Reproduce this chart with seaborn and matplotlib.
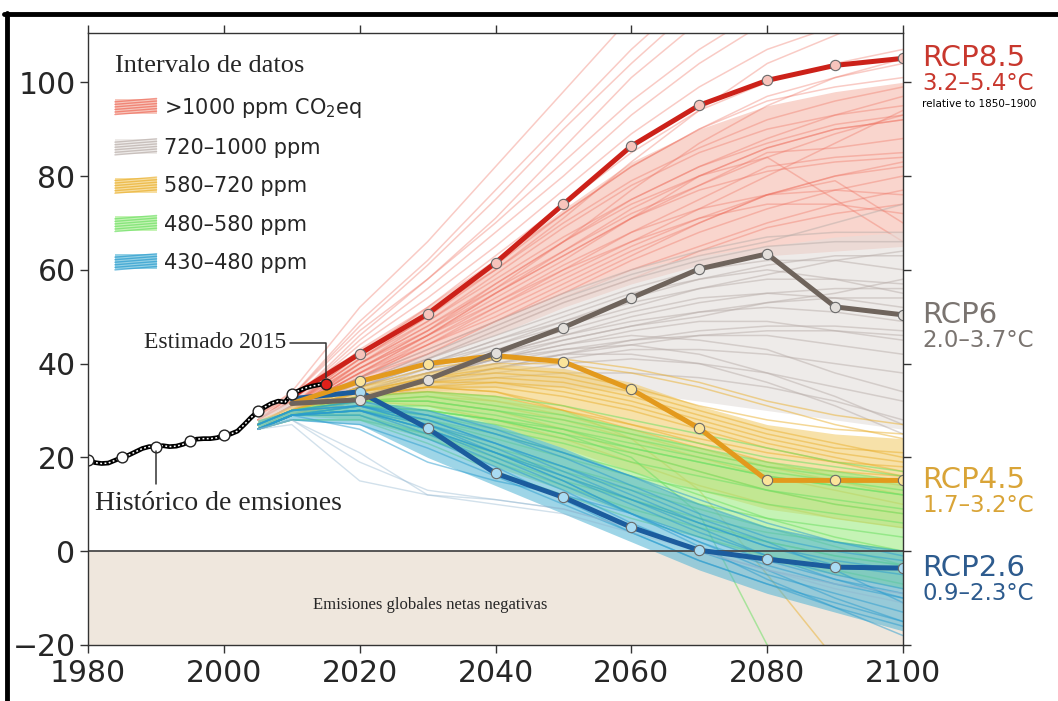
import numpy as np
import pandas as pd
import matplotlib
matplotlib.use("Agg")
import matplotlib.pyplot as plt
from matplotlib.lines import Line2D
from matplotlib.patches import Rectangle
from matplotlib.legend_handler import HandlerBase
import seaborn as sns

# ---------------------------------------------------------------- data
years = [2005, 2010, 2020, 2030, 2040, 2050, 2060, 2070, 2080, 2090, 2100]

# individual scenario runs per concentration class (GtCO2/yr)
runs_1000 = [
    [29, 34, 52, 66, 82, 98, 114, 128, 140, 150, 158],
    [28, 33, 49, 62, 77, 92, 107, 120, 132, 140, 146],
    [29, 33, 47, 58, 71, 86, 101, 113, 124, 130, 134],
    [28, 32, 45, 56, 68, 80, 93, 104, 113, 120, 124],
    [28, 32, 44, 54, 65, 77, 89, 99, 107, 112, 115],
    [27, 31, 43, 52, 62, 72, 82, 90, 97, 101, 104],
    [27, 31, 42, 51, 60, 70, 79, 86, 92, 96, 99],
    [27, 31, 41, 49, 58, 67, 75, 82, 88, 93, 97],
    [26, 30, 40, 48, 56, 64, 72, 78, 84, 89, 93],
    [27, 31, 40, 47, 55, 63, 71, 78, 85, 86, 88],
    [26, 30, 39, 46, 53, 60, 68, 75, 82, 84, 85],
    [26, 30, 38, 45, 52, 59, 66, 73, 80, 87, 94],
    [26, 30, 38, 44, 50, 57, 64, 70, 76, 80, 83],
    [27, 31, 39, 46, 54, 62, 71, 80, 84, 75, 66],
    [26, 30, 37, 43, 49, 55, 62, 68, 73, 77, 80],
    [26, 30, 37, 42, 48, 54, 60, 65, 70, 74, 77],
    [26, 29, 36, 41, 47, 53, 58, 64, 69, 72, 74],
    [26, 30, 39, 47, 56, 66, 77, 87, 95, 101, 105],
    [27, 31, 41, 50, 60, 71, 83, 94, 104, 110, 116],
    [26, 30, 38, 46, 55, 64, 73, 80, 86, 90, 92],
    [26, 29, 36, 42, 49, 56, 63, 70, 76, 80, 82],
    [26, 30, 37, 44, 51, 58, 65, 71, 76, 79, 70],
    [27, 31, 42, 52, 63, 74, 85, 94, 100, 104, 107],
    [27, 31, 41, 50, 61, 72, 82, 90, 96, 99, 101],
    [26, 30, 40, 49, 59, 69, 78, 85, 90, 93, 95],
    [26, 30, 39, 47, 57, 66, 75, 82, 87, 91, 93],
    [26, 30, 38, 46, 55, 63, 71, 77, 81, 83, 84],
    [26, 30, 37, 45, 53, 61, 68, 73, 76, 77, 76],
    [26, 29, 37, 44, 52, 60, 66, 71, 74, 74, 72],
    [27, 31, 40, 48, 57, 66, 74, 80, 86, 90, 92],
    [28, 33, 48, 61, 75, 90, 104, 117, 128, 136, 141],
    [28, 32, 46, 58, 70, 83, 96, 107, 116, 122, 126],
]
runs_720 = [
    [27, 31, 37, 43, 49, 55, 60, 64, 67, 68, 68],
    [27, 30, 36, 41, 46, 51, 56, 60, 62, 62, 60],
    [27, 30, 35, 40, 45, 49, 53, 56, 58, 58, 57],
    [27, 30, 35, 39, 43, 47, 51, 54, 55, 54, 52],
    [26, 30, 34, 38, 42, 46, 49, 51, 52, 51, 49],
    [26, 29, 34, 37, 41, 44, 47, 49, 49, 47, 45],
    [26, 29, 33, 37, 40, 43, 45, 46, 46, 44, 42],
    [26, 29, 33, 36, 39, 41, 43, 43, 42, 40, 38],
    [26, 29, 33, 36, 38, 40, 41, 40, 38, 35, 32],
    [26, 29, 32, 35, 37, 38, 38, 37, 35, 32, 28],
    [27, 30, 36, 42, 48, 54, 59, 63, 66, 70, 74],
    [27, 30, 35, 40, 44, 48, 52, 56, 59, 62, 64],
    [26, 29, 34, 38, 42, 45, 48, 50, 53, 55, 58],
    [26, 29, 33, 37, 41, 44, 46, 45, 43, 38, 34],
    [26, 29, 33, 36, 39, 42, 44, 46, 47, 47, 46],
    [26, 29, 34, 38, 41, 43, 44, 42, 38, 33, 27],
    [27, 30, 35, 40, 45, 50, 55, 58, 60, 58, 55],
    [26, 29, 33, 37, 40, 42, 42, 40, 36, 31, 25],
    [27, 30, 35, 41, 47, 53, 58, 62, 65, 66, 66],
    [26, 30, 34, 39, 44, 49, 54, 58, 61, 63, 63],
    [26, 29, 34, 38, 42, 46, 50, 53, 55, 56, 56],
    [26, 29, 33, 37, 41, 45, 48, 51, 53, 54, 54],
    [26, 29, 33, 36, 39, 42, 45, 47, 48, 48, 47],
]
runs_580 = [
    [27, 30, 35, 38, 40, 40, 38, 35, 31, 27, 24],
    [27, 30, 34, 37, 38, 37, 34, 30, 26, 23, 20],
    [26, 29, 34, 36, 36, 34, 31, 27, 23, 20, 17],
    [26, 29, 33, 35, 34, 31, 27, 23, 19, 16, 14],
    [26, 29, 33, 34, 33, 30, 26, 22, 18, 15, 12],
    [26, 29, 32, 33, 31, 28, 24, 20, 16, 13, 10],
    [26, 29, 32, 32, 30, 26, 21, 17, 13, 10, 8],
    [26, 29, 33, 35, 35, 33, 30, 26, 22, 19, 16],
    [26, 29, 32, 31, 28, 24, 19, 14, 10, 7, 5],
    [26, 29, 33, 35, 34, 30, 24, 13, -5, -23, -40],
    [27, 30, 34, 37, 39, 38, 35, 31, 28, 26, 25],
    [26, 29, 33, 34, 32, 29, 25, 21, 18, 17, 16],
    [26, 29, 32, 33, 32, 30, 27, 24, 21, 19, 18],
    [27, 30, 34, 36, 37, 36, 33, 29, 25, 22, 21],
    [27, 30, 35, 39, 41, 41, 39, 36, 32, 29, 27],
    [26, 29, 33, 35, 36, 35, 32, 28, 24, 21, 19],
]
runs_480 = [
    [27, 30, 33, 34, 33, 31, 28, 25, 22, 19, 17],
    [27, 30, 32, 32, 30, 28, 25, 22, 19, 17, 15],
    [26, 29, 31, 30, 28, 25, 22, 19, 16, 14, 12],
    [26, 29, 31, 29, 26, 23, 19, 16, 13, 11, 9],
    [26, 29, 30, 28, 24, 20, 16, 13, 10, 8, 6],
    [26, 29, 30, 27, 22, 18, 14, 10, 7, 5, 3],
    [26, 29, 29, 25, 20, 15, 11, 7, 4, 2, 0],
    [26, 29, 29, 24, 19, 14, 9, 5, 2, -1, -3],
    [26, 28, 28, 23, 17, 12, 7, 3, -1, -4, -7],
    [27, 30, 32, 33, 31, 29, 26, 23, 20, 18, 16],
    [26, 29, 31, 30, 28, 25, 20, 8, -20, -45, -60],
    [26, 29, 31, 30, 28, 26, 23, 20, 17, 15, 13],
    [26, 29, 30, 26, 21, 16, 11, 6, 2, -1, -3],
    [26, 29, 31, 31, 29, 26, 22, 19, 16, 14, 12],
    [26, 28, 28, 25, 21, 17, 13, 9, 5, 1, -3],
    [27, 30, 32, 32, 30, 27, 24, 21, 18, 16, 15],
    [26, 29, 30, 29, 27, 24, 21, 17, 13, 10, 8],
    [26, 29, 30, 28, 25, 21, 17, 12, 7, 3, 0],
]
runs_430 = [
    [27, 30, 32, 29, 25, 20, 14, 8, 3, 0, -2],
    [27, 30, 31, 28, 23, 18, 12, 6, 1, -3, -5],
    [26, 29, 31, 27, 22, 16, 10, 4, -1, -5, -8],
    [26, 29, 30, 26, 20, 14, 8, 2, -3, -7, -10],
    [26, 29, 30, 25, 19, 13, 6, 0, -5, -9, -13],
    [26, 29, 29, 24, 18, 11, 4, -2, -7, -12, -16],
    [26, 28, 27, 22, 16, 10, 4, -2, -7, -11, -15],
    [26, 27, 15, 12, 11, 9, 5, 0, -4, -8, -11],
    [26, 28, 19, 13, 11, 9, 5, 0, -4, -7, -9],
    [27, 30, 32, 30, 26, 21, 16, 10, 5, 2, 0],
    [26, 29, 31, 27, 21, 15, 8, 1, -6, -12, -18],
    [26, 29, 30, 26, 21, 16, 11, 6, 1, -2, -4],
    [26, 29, 26, 19, 15, 12, 8, 3, -2, -6, -9],
    [27, 30, 31, 28, 23, 17, 11, 5, -1, -6, -10],
    [26, 28, 21, 12, 10, 8, 4, 0, -4, -7, -9],
    [26, 29, 30, 26, 21, 15, 8, 2, -4, -10, -15],
    [26, 29, 30, 27, 23, 18, 13, 7, 2, -4, -11],
    [27, 30, 31, 29, 25, 21, 16, 11, 6, 2, -1],
]

# dense core of each class
core_lo_1000 = [27, 30, 35, 41, 46, 52, 57, 61, 63, 64, 65]
core_hi_1000 = [30, 34, 43, 52, 62, 73, 83, 90, 95, 98, 100]
core_lo_720 = [27, 29, 32, 34, 35, 35, 34, 32, 30, 28, 26]
core_hi_720 = [29, 32, 36, 42, 49, 55, 60, 63, 65, 67, 68]
core_lo_580 = [26, 29, 32, 31, 27, 22, 17, 13, 9, 7, 5]
core_hi_580 = [28, 31, 35, 38, 40, 39, 36, 31, 27, 25, 24]
core_lo_480 = [26, 29, 28, 24, 18, 13, 8, 3, -2, -5, -8]
core_hi_480 = [28, 30, 33, 34, 33, 30, 26, 22, 19, 17, 15]
core_lo_430 = [26, 28, 27, 20, 14, 8, 2, -4, -9, -13, -17]
core_hi_430 = [28, 30, 32, 30, 27, 22, 16, 10, 5, 2, 0]

class_labels = [">1000 ppm CO$_2$eq", "720–1000 ppm", "580–720 ppm",
                "480–580 ppm", "430–480 ppm"]

# representative pathways
rcp_years = [2010, 2020, 2030, 2040, 2050, 2060, 2070, 2080, 2090, 2100]
rcp85 = [33.0, 42.1, 50.6, 61.5, 74.0, 86.4, 95.1, 100.4, 103.6, 105.1]
rcp6 = [31.5, 32.3, 36.6, 42.3, 47.7, 54.0, 60.2, 63.4, 52.1, 50.4]
rcp45 = [31.5, 36.2, 40.0, 41.7, 40.4, 34.5, 26.2, 15.1, 15.1, 15.1]
rcp26 = [32.5, 34.0, 26.2, 16.6, 11.5, 5.1, 0.2, -1.7, -3.4, -3.6]
rcp_names = ["RCP8.5", "RCP6", "RCP4.5", "RCP2.6"]
rcp_ranges = ["3.2–5.4°C", "2.0–3.7°C", "1.7–3.2°C", "0.9–2.3°C"]

# historical emissions
hist_years = list(range(1980, 2016))
hist_vals = [19.5, 18.9, 18.7, 18.8, 19.4, 20.0, 20.5, 21.2, 21.9, 22.3,
             22.3, 22.5, 22.3, 22.4, 22.8, 23.4, 23.9, 24.0, 24.0, 24.2,
             24.7, 25.0, 25.6, 27.0, 28.5, 29.8, 30.7, 31.5, 32.0, 31.8,
             33.6, 34.2, 34.8, 35.2, 35.5, 35.7]

# ---------------------------------------------------------------- style
sns.set_style("ticks")
plt.rcParams["font.family"] = ["DejaVu Sans"]
plt.rcParams["mathtext.fontset"] = "dejavusans"
SERIF = ["Liberation Serif", "DejaVu Serif"]

class_colors = ["#ee6b5a", "#b9aeaa", "#eab02e", "#6fe066", "#2a9ccf"]
core_colors = ["#f3a292", "#e4dedb", "#f2c963", "#9fec84", "#4fb3d4"]
core_alpha = [0.45, 0.6, 0.55, 0.6, 0.55]
line_alpha = [0.35, 0.5, 0.5, 0.55, 0.5]
rcp_colors = ["#cc2119", "#6f645c", "#e39a1d", "#1b5c9e"]
rcp_faces = ["#f7c4bc", "#e3dfdb", "#fbe49a", "#a9dbf3"]
label_colors = ["#c8372d", "#7a7470", "#d9a437", "#2d5b8e"]

fig = plt.figure(figsize=(10.58, 7.01), dpi=100)
ax = fig.add_axes([0.0832, 0.0799, 0.7703, 0.8730])

ax.axhspan(-20, 0, color="#efe7dd", lw=0, zorder=0)

all_runs = [runs_1000, runs_720, runs_580, runs_480, runs_430]
cores = [(core_lo_1000, core_hi_1000), (core_lo_720, core_hi_720),
         (core_lo_580, core_hi_580), (core_lo_480, core_hi_480),
         (core_lo_430, core_hi_430)]

for k, (runs, (lo, hi)) in enumerate(zip(all_runs, cores)):
    ax.fill_between(years, lo, hi, color=core_colors[k], alpha=core_alpha[k],
                    lw=0, zorder=1 + k * 0.1)
    rows = [(f"r{i}", yr, v, run[2] < 24) for i, run in enumerate(runs)
            for yr, v in zip(years, run)]
    df = pd.DataFrame(rows, columns=["run", "year", "value", "early"])
    main = df[~df.early]
    sns.lineplot(data=main, x="year", y="value", units="run",
                 estimator=None, color=class_colors[k], lw=1.1,
                 alpha=line_alpha[k], sort=False, legend=False, ax=ax,
                 zorder=1.05 + k * 0.1)
    early = df[df.early]
    if len(early):
        # runs with an early, steep decline are drawn lighter
        sns.lineplot(data=early, x="year", y="value", units="run",
                     estimator=None, color="#8fb4cf", lw=1.0, alpha=0.4,
                     sort=False, legend=False, ax=ax, zorder=1.05 + k * 0.1)

ax.axhline(0, color="#4a4a4a", lw=1.3, zorder=2)

# representative pathways
rcp_df = pd.DataFrame({
    "year": rcp_years * 4,
    "value": rcp85 + rcp6 + rcp45 + rcp26,
    "rcp": sum([[n] * len(rcp_years) for n in rcp_names], []),
})
rcp_order = ["RCP2.6", "RCP4.5", "RCP6", "RCP8.5"]
pal = dict(zip(rcp_names, rcp_colors))
for name in rcp_order:
    sub = rcp_df[rcp_df.rcp == name]
    sns.lineplot(data=sub, x="year", y="value", color=pal[name], lw=3.6,
                 legend=False, ax=ax, zorder=4, solid_capstyle="round")
    mk = sub[sub.year >= 2020]
    sns.scatterplot(data=mk, x="year", y="value",
                    color=rcp_faces[rcp_names.index(name)], s=55,
                    edgecolor="#6a6a6a", linewidth=0.8, ax=ax, zorder=5,
                    legend=False)

# historical emissions
hist_df = pd.DataFrame({"year": hist_years, "value": hist_vals})
sns.lineplot(data=hist_df, x="year", y="value", color="black", lw=3.4,
             ax=ax, zorder=6, legend=False)
ax.plot(hist_years, hist_vals, color="white", lw=1.1, ls=(0, (1.2, 1.6)),
        zorder=6.5)
h_mk = hist_df[(hist_df.year % 5 == 0) & (hist_df.year < 2015)]
sns.scatterplot(data=h_mk, x="year", y="value", color="white", s=60,
                edgecolor="#222222", linewidth=1.0, ax=ax, zorder=7,
                legend=False)
last = hist_df.iloc[-1]
ax.scatter([last.year], [last.value], s=60, color="#e0201a",
           edgecolor="#222222", linewidth=1.0, zorder=7.5)

# annotations
ax.plot([2009.8, last.year, last.year], [44.3, 44.3, last.value + 1.2],
        color="#333333", lw=1.1, zorder=8)
ax.text(2009.2, 44.6, "Estimado 2015", family=SERIF, fontsize=17,
        ha="right", va="center", zorder=8)
h90 = hist_df[hist_df.year == 1990].value.iloc[0]
ax.plot([1990, 1990], [h90 - 1.0, 14.3], color="#333333", lw=1.1, zorder=8)
ax.text(1981.0, 10.2, "Histórico de emsiones", family=SERIF, fontsize=20,
        ha="left", va="center", zorder=8)
ax.text(2030.4, -11.5, "Emisiones globales netas negativas", family=SERIF,
        fontsize=12, ha="center", va="center", zorder=8)

# pathway labels at the right edge
finals = [rcp85[-1], rcp6[-1], rcp45[-1], rcp26[-1]]
for name, rng, c, yv in zip(rcp_names, rcp_ranges, label_colors, finals):
    ax.text(2102.8, yv, name, color=c, fontsize=21, ha="left", va="center",
            clip_on=False)
    ax.text(2102.8, yv - 5.4, rng, color=c, fontsize=16.5, ha="left",
            va="center", clip_on=False)
ax.text(2102.8, rcp85[-1] - 9.7, "relative to 1850–1900", color="black",
        fontsize=7.5, ha="left", va="center", clip_on=False)


# legend made of small line bundles
class BundleHandler(HandlerBase):
    def __init__(self, color, back):
        super().__init__()
        self.color = color
        self.back = back

    def create_artists(self, legend, orig_handle, xdescent, ydescent,
                       width, height, fontsize, trans):
        x0 = -xdescent
        y0 = -ydescent
        arts = [Rectangle((x0, y0), width, height, facecolor=self.back,
                          edgecolor="none", alpha=0.6, transform=trans)]
        n = 6
        for i in range(n):
            yy = y0 + height * (i + 0.5) / n
            arts.append(Line2D([x0, x0 + width], [yy - 1.2, yy + 1.2],
                               color=self.color, lw=1.0, alpha=0.7,
                               transform=trans))
        return arts


handles = [Line2D([], [], color=c) for c in class_colors]
hmap = {h: BundleHandler(c, b)
        for h, c, b in zip(handles, class_colors, core_colors)}
leg = ax.legend(handles, class_labels, handler_map=hmap,
                loc="upper left", bbox_to_anchor=(0.01, 0.994),
                frameon=False, fontsize=15, handlelength=2.0,
                handleheight=0.75, handletextpad=0.35, labelspacing=0.88,
                title="Intervalo de datos", alignment="left",
                title_fontproperties={"family": SERIF, "size": 19})
leg.set_zorder(9)

# axes cosmetics
ax.set_xlim(1980, 2100)
ax.set_ylim(-20, 110.5)
ax.set_xticks(range(1980, 2101, 20))
ax.set_yticks(range(-20, 101, 20))
ax.set_yticklabels(["−20", "0", "20", "40", "60", "80", "100"])
ax.set_xlabel("")
ax.set_ylabel("")
for s in ax.spines.values():
    s.set_visible(True)
    s.set_color("#333333")
    s.set_linewidth(1.0)
    s.set_zorder(10)
ax.tick_params(axis="both", direction="out", length=6, width=1.0,
               color="#333333", top=True, right=True, labeltop=False,
               labelright=False, labelsize=21.5, pad=3)
ax.tick_params(axis="x", pad=4)

# outer frame
fig.add_artist(Line2D([0.004, 1.0], [0.9805, 0.9805], color="black", lw=3.5,
                      transform=fig.transFigure))
fig.add_artist(Line2D([0.0062, 0.0062], [0.0, 0.982], color="black", lw=3.5,
                      transform=fig.transFigure))

fig.savefig("out.png", dpi=100)
